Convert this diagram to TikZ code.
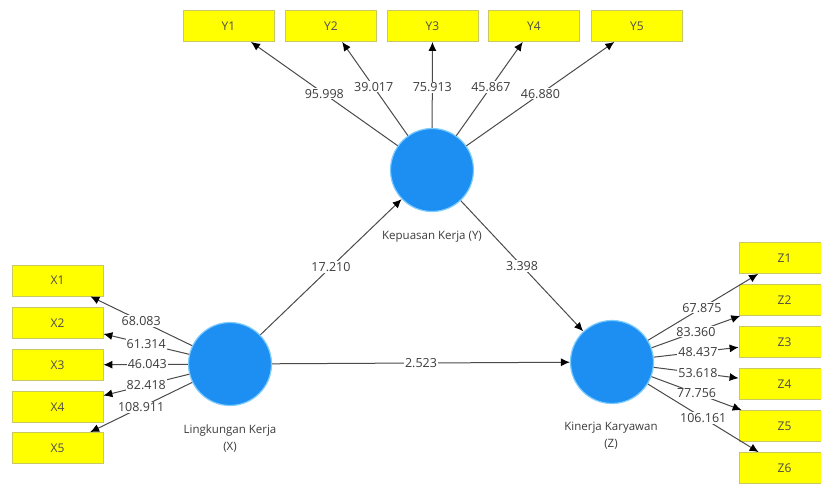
\documentclass[tikz,border=0pt]{standalone}
\usepackage{fontspec}
\setmainfont{Open Sans}
\usetikzlibrary{arrows.meta}
\definecolor{lv}{HTML}{1E8FF2}
\definecolor{lvedge}{HTML}{7CCCFF}
\definecolor{ind}{HTML}{FFFF00}
\definecolor{indedge}{HTML}{C8C864}
\definecolor{txt}{HTML}{3C3C3C}
\definecolor{ln}{HTML}{4A4A4A}
\begin{document}
\begin{tikzpicture}[x=1pt,y=-1pt,
  latent/.style={circle, fill=lv, draw=lvedge, line width=1.2pt, minimum size=83pt, inner sep=0pt},
  indbox/.style={rectangle, fill=ind, draw=indedge, line width=0.8pt, minimum width=91pt, minimum height=31pt, inner sep=0pt, font=\fontsize{12}{14}\selectfont, text=black!70},
  conn/.style={draw=ln, line width=1pt, -{Latex[length=9pt,width=8pt,color=black]}},
  val/.style={fill=white, inner sep=1pt, font=\fontsize{12.5}{14}\selectfont, text=txt},
  lvlabel/.style={font=\fontsize{11.5}{17}\selectfont, text=txt, align=center}
]
\clip (0,0) rectangle (821,483);
\fill[white] (0,0) rectangle (821,483);

% latent variables
\node[latent] (Y) at (432,170) {};
\node[latent] (X) at (230,364) {};
\node[latent] (Z) at (612,362) {};

\node[lvlabel] (ly) at (432,237) {Kepuasan Kerja (Y)};
\node[lvlabel] (lx) at (230,438.5) {Lingkungan Kerja\\(X)};
\node[lvlabel] (lz) at (611,436) {Kinerja Karyawan\\(Z)};

% Y indicators
\node[indbox] (Y1) at (228.5,26) {Y1};
\node[indbox] (Y2) at (331,26) {Y2};
\node[indbox] (Y3) at (432.5,26) {Y3};
\node[indbox] (Y4) at (534,26) {Y4};
\node[indbox] (Y5) at (637,26) {Y5};

% X indicators
\node[indbox] (X1) at (57.5,280.5) {X1};
\node[indbox] (X2) at (57.5,323) {X2};
\node[indbox] (X3) at (57.5,365) {X3};
\node[indbox] (X4) at (57.5,407) {X4};
\node[indbox] (X5) at (57.5,448) {X5};

% Z indicators
\node[indbox] (Z1) at (784.5,258) {Z1};
\node[indbox] (Z2) at (784.5,300) {Z2};
\node[indbox] (Z3) at (784.5,342) {Z3};
\node[indbox] (Z4) at (784.5,384) {Z4};
\node[indbox] (Z5) at (784.5,426) {Z5};
\node[indbox] (Z6) at (784.5,468) {Z6};

% loadings Y
\draw[conn] (Y) -- (Y1) node[val,pos=0.5] {95.998};
\draw[conn] (Y) -- (Y2) node[val,pos=0.52] {39.017};
\draw[conn] (Y) -- (Y3) node[val,pos=0.47] {75.913};
\draw[conn] (Y) -- (Y4) node[val,pos=0.52] {45.867};
\draw[conn] (Y) -- (Y5) node[val,pos=0.5] {46.880};

% loadings X
\draw[conn] (X) -- (X1) node[val,pos=0.5] {68.083};
\draw[conn] (X) -- (X2) node[val,pos=0.5] {61.314};
\draw[conn] (X) -- (X3) node[val,pos=0.48] {46.043};
\draw[conn] (X) -- (X4) node[val,pos=0.5] {82.418};
\draw[conn] (X) -- (X5) node[val,pos=0.5] {108.911};

% loadings Z
\draw[conn] (Z) -- (Z1) node[val,pos=0.49] {67.875};
\draw[conn] (Z) -- (Z2) node[val,pos=0.5] {83.360};
\draw[conn] (Z) -- (Z3) node[val,pos=0.52] {48.437};
\draw[conn] (Z) -- (Z4) node[val,pos=0.52] {53.618};
\draw[conn] (Z) -- (Z5) node[val,pos=0.5] {77.756};
\draw[conn] (Z) -- (Z6) node[val,pos=0.5] {106.161};

% structural paths
\draw[conn] (X) -- (Y) node[val,pos=0.5] {17.210};
\draw[conn] (Y) -- (Z) node[val,pos=0.5] {3.398};
\draw[conn] (X) -- (Z) node[val,pos=0.5] {2.523};
\end{tikzpicture}
\end{document}
